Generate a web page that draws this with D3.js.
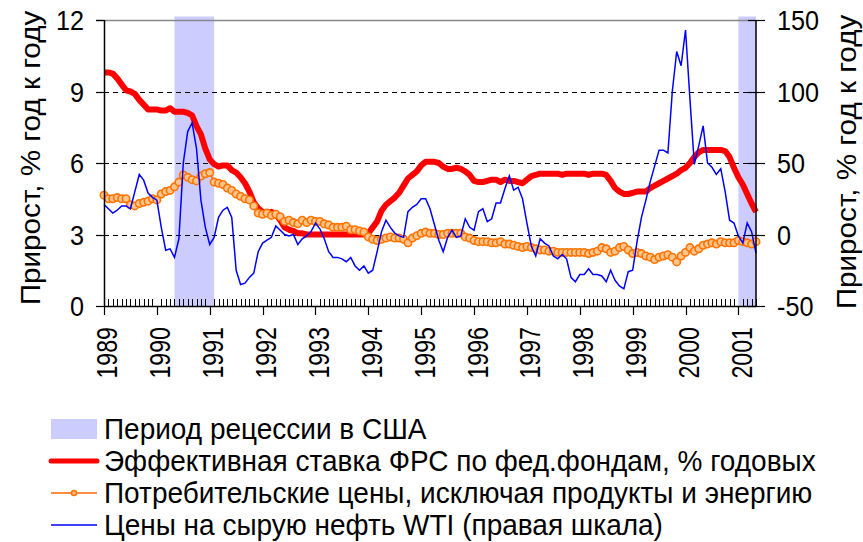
<!DOCTYPE html>
<html>
<head>
<meta charset="utf-8">
<script src="https://cdn.jsdelivr.net/npm/d3@7/dist/d3.min.js"></script>
<style>
  body { margin: 0; background: #fff; }
  text { font-family: "Liberation Sans", Arial, sans-serif; fill: #000; }
</style>
</head>
<body>
<div id="chart"></div>
<script>
// monthly data, Jan 1989 .. May 2001
var fedFunds = [
  9.8, 9.8, 9.75, 9.55, 9.3, 9.05, 9.0, 8.9, 8.65, 8.45, 8.25, 8.25,
  8.25, 8.2, 8.2, 8.3, 8.15, 8.15, 8.15, 8.1, 8.0, 7.55, 7.2, 6.6,
  6.15, 5.95, 5.85, 5.9, 5.9, 5.7, 5.6, 5.4, 5.15, 4.8, 4.35, 4.1,
  3.95, 3.9, 3.95, 3.85, 3.6, 3.3, 3.2, 3.15, 3.05, 3.05, 3.0, 3.0,
  3.0, 3.0, 3.0, 3.0, 3.0, 3.0, 3.0, 3.0, 3.0, 3.0, 3.0, 3.0,
  3.05, 3.3, 3.55, 4.0, 4.25, 4.4, 4.55, 4.75, 5.05, 5.35, 5.5, 5.65,
  5.9, 6.05, 6.05, 6.05, 6.0, 5.85, 5.75, 5.75, 5.8, 5.75, 5.65, 5.5,
  5.25, 5.2, 5.2, 5.25, 5.3, 5.3, 5.2, 5.3, 5.25, 5.25, 5.2, 5.15,
  5.3, 5.45, 5.5, 5.55, 5.55, 5.55, 5.55, 5.55, 5.5, 5.55, 5.55, 5.55,
  5.55, 5.55, 5.5, 5.55, 5.55, 5.55, 5.5, 5.25, 4.95, 4.8, 4.7, 4.7,
  4.75, 4.8, 4.8, 4.8, 4.95, 5.05, 5.15, 5.25, 5.35, 5.45, 5.55, 5.7,
  5.8, 6.0, 6.25, 6.45, 6.55, 6.55, 6.55, 6.55, 6.55, 6.5, 6.25, 5.8,
  5.4, 5.1, 4.7, 4.3, 3.95
];
var coreCpi = [
  4.65, 4.5, 4.5, 4.55, 4.5, 4.5, 4.25, 4.2, 4.3, 4.35, 4.4, 4.5,
  4.45, 4.7, 4.8, 4.85, 5.0, 5.2, 5.5, 5.4, 5.3, 5.25, 5.45, 5.55,
  5.6, 5.2, 5.15, 5.1, 4.95, 4.85, 4.7, 4.6, 4.5, 4.45, 4.2, 3.9,
  3.85, 3.9, 3.8, 3.85, 3.75, 3.55, 3.6, 3.5, 3.45, 3.6, 3.5, 3.6,
  3.55, 3.55, 3.45, 3.4, 3.3, 3.3, 3.3, 3.35, 3.2, 3.2, 3.15, 3.1,
  2.9, 2.8, 2.75, 2.8, 2.85, 2.9, 2.85, 2.85, 2.8, 2.65, 2.85, 2.95,
  3.05, 3.1, 3.05, 3.05, 3.0, 3.0, 3.05, 3.05, 3.05, 3.05, 2.9, 2.85,
  2.75, 2.7, 2.7, 2.7, 2.65, 2.65, 2.7, 2.6, 2.6, 2.55, 2.5, 2.45,
  2.5, 2.45, 2.4, 2.35, 2.35, 2.3, 2.3, 2.25, 2.25, 2.25, 2.25, 2.25,
  2.25, 2.25, 2.2, 2.25, 2.3, 2.45, 2.4, 2.25, 2.3, 2.45, 2.5, 2.35,
  2.2, 2.25, 2.2, 2.1, 2.05, 1.95, 2.05, 2.1, 2.15, 2.05, 1.85, 2.1,
  2.25, 2.45, 2.3, 2.4, 2.55, 2.6, 2.65, 2.6, 2.7, 2.65, 2.65, 2.65,
  2.75, 2.7, 2.65, 2.6, 2.7
];
var oilWti = [
  21, 18, 15, 17, 20, 20, 18, 30, 42, 38, 29, 26,
  24, 5, -11, -10, -16, -3, 50, 72, 78, 60, 24, 5,
  -7, -2, 12, 17, 19, 12, -25, -35, -34, -30, -27, -12,
  -6, -4, -2, 6, 3, 0, -1, 0, -7, -3, -1, 2,
  8, 4, -3, -12, -16, -16, -17, -19, -16, -22, -25, -22,
  -27, -25, -12, 2, 10, 5, 1, -1, -2, 16, 19, 21,
  25, 25, 18, 7, -4, -12, -2, 3, -2, -1, 11, 5,
  3, 16, 18, 9, 11, 22, 22, 32, 41, 31, 33, 25,
  8, -8, -15, -3, -6, -8, -15, -17, -14, -17, -30, -33,
  -28, -28, -24, -28, -28, -29, -33, -25, -32, -36, -38, -26,
  -25, -5, 12, 24, 37, 48, 59, 59, 57, 100, 128, 118,
  143, 95, 49, 62, 76, 50, 47, 42, 46, 30, 10, 8,
  -1, -6, 8, 2, -13
];
// recession periods as month indexes [start, end]
var recessions = [[16, 25], [144, 148]];
var years = d3.range(1989, 2002);
var leftTicks = [0, 3, 6, 9, 12];
var rightTicks = [-50, 0, 50, 100, 150];
var gridTicks = [3, 6, 9];
var axisTitle = "Прирост, % год к году";
var legendLabels = [
  "Период рецессии в США",
  "Эффективная ставка ФРС по фед.фондам, % годовых",
  "Потребительские цены, исключая продукты и энергию",
  "Цены на сырую нефть WTI (правая шкала)"
];

var W = 863, H = 542;
var plotL = 104, plotR = 756, plotT = 20, plotB = 306;

var svg = d3.select("#chart").append("svg")
    .attr("width", W).attr("height", H);

var x = d3.scaleLinear().domain([0, fedFunds.length - 1]).range([plotL, plotR]);
var yL = d3.scaleLinear().domain([0, 12]).range([plotB, plotT]);
var yR = d3.scaleLinear().domain([-50, 150]).range([plotB, plotT]);

// stretch / squeeze text along its direction
function squeeze(sel, k) {
    sel.each(function () {
        var L = this.getComputedTextLength();
        d3.select(this).attr("textLength", L * k).attr("lengthAdjust", "spacingAndGlyphs");
    });
}

// recession bars
svg.append("g")
    .selectAll("rect")
    .data(recessions)
    .enter()
    .append("rect")
        .attr("x", d => x(d[0]))
        .attr("y", plotT - 3.5)
        .attr("width", d => x(d[1]) - x(d[0]))
        .attr("height", plotB - plotT + 3.5)
        .style("fill", "#ccccff");

// grid
svg.append("g")
    .selectAll("line")
    .data(gridTicks)
    .enter()
    .append("line")
        .attr("x1", plotL).attr("x2", plotR)
        .attr("y1", d => Math.round(yL(d)) + 0.5)
        .attr("y2", d => Math.round(yL(d)) + 0.5)
        .attr("stroke", "#000")
        .attr("stroke-dasharray", "5,4");

// top border
svg.append("line")
    .attr("x1", plotL - 8).attr("x2", plotR)
    .attr("y1", plotT + 0.5).attr("y2", plotT + 0.5)
    .attr("stroke", "#888").attr("stroke-width", 1.5);

// series
var lineL = d3.line().x((d, i) => x(i)).y(d => yL(d));
var lineR = d3.line().x((d, i) => x(i)).y(d => yR(d));

svg.append("path")
    .datum(fedFunds)
    .attr("d", lineL)
    .attr("fill", "none")
    .attr("stroke", "#ff0000")
    .attr("stroke-width", 6)
    .attr("stroke-linejoin", "round");

svg.append("path")
    .datum(coreCpi)
    .attr("d", lineL)
    .attr("fill", "none")
    .attr("stroke", "#ff6600")
    .attr("stroke-width", 1.5);

svg.append("g")
    .selectAll("circle")
    .data(coreCpi)
    .enter()
    .append("circle")
        .attr("cx", (d, i) => x(i))
        .attr("cy", d => yL(d))
        .attr("r", 3.7)
        .attr("fill", "#ffc58c")
        .attr("stroke", "#ff7300")
        .attr("stroke-width", 1.6);

svg.append("path")
    .datum(oilWti)
    .attr("d", lineR)
    .attr("fill", "none")
    .attr("stroke", "#0000ff")
    .attr("stroke-width", 1.5);

// axis lines
svg.append("line")
    .attr("x1", plotL + 0.5).attr("x2", plotL + 0.5)
    .attr("y1", plotT).attr("y2", plotB)
    .attr("stroke", "#000").attr("stroke-width", 1.5);
svg.append("line")
    .attr("x1", plotR).attr("x2", plotR)
    .attr("y1", plotT).attr("y2", plotB)
    .attr("stroke", "#000").attr("stroke-width", 1.5);
svg.append("line")
    .attr("x1", plotL).attr("x2", plotR)
    .attr("y1", plotB + 0.5).attr("y2", plotB + 0.5)
    .attr("stroke", "#000").attr("stroke-width", 1.5);

// left ticks + labels
var gl = svg.append("g");
gl.selectAll("line")
    .data(leftTicks)
    .enter()
    .append("line")
        .attr("x1", plotL - 8).attr("x2", plotL)
        .attr("y1", d => Math.round(yL(d)) + 0.5)
        .attr("y2", d => Math.round(yL(d)) + 0.5)
        .attr("stroke", "#000").attr("stroke-width", 1.2);
gl.selectAll("text")
    .data(leftTicks)
    .enter()
    .append("text")
        .attr("x", 84)
        .attr("y", d => yL(d))
        .attr("dy", "0.36em")
        .attr("text-anchor", "end")
        .style("font-size", "28px")
        .text(d => d)
        .call(squeeze, 0.9);

// right ticks + labels
var gr = svg.append("g");
gr.selectAll("line")
    .data(rightTicks)
    .enter()
    .append("line")
        .attr("x1", plotR - 8).attr("x2", plotR + 9)
        .attr("y1", d => Math.round(yR(d)) + 0.5)
        .attr("y2", d => Math.round(yR(d)) + 0.5)
        .attr("stroke", "#000").attr("stroke-width", 1.2);
gr.selectAll("text")
    .data(rightTicks)
    .enter()
    .append("text")
        .attr("x", 777)
        .attr("y", d => yR(d))
        .attr("dy", "0.36em")
        .attr("text-anchor", "start")
        .style("font-size", "28px")
        .text(d => d)
        .call(squeeze, 0.9);

// x ticks: minor per month above the axis, major per year below
var months = d3.range(0, fedFunds.length);
svg.append("g")
    .selectAll("line")
    .data(months.filter(m => m % 12 !== 0))
    .enter()
    .append("line")
        .attr("x1", d => Math.round(x(d)) + 0.5)
        .attr("x2", d => Math.round(x(d)) + 0.5)
        .attr("y1", plotB - 7).attr("y2", plotB)
        .attr("stroke", "#000").attr("stroke-width", 1);

var gx = svg.append("g");
gx.selectAll("line")
    .data(years)
    .enter()
    .append("line")
        .attr("x1", d => Math.round(x((d - 1989) * 12)) + 0.5)
        .attr("x2", d => Math.round(x((d - 1989) * 12)) + 0.5)
        .attr("y1", plotB).attr("y2", plotB + 9)
        .attr("stroke", "#000").attr("stroke-width", 1.2);
gx.selectAll("text")
    .data(years)
    .enter()
    .append("text")
        .attr("transform", d => "translate(" + (x((d - 1989) * 12) + 3) + "," + 327 + ") rotate(-90)")
        .attr("dy", "0.36em")
        .attr("text-anchor", "end")
        .style("font-size", "29px")
        .text(d => d)
        .call(squeeze, 0.8);

// axis titles
svg.append("text")
    .attr("transform", "translate(30,158) rotate(-90)")
    .attr("dy", "0.36em")
    .attr("text-anchor", "middle")
    .style("font-size", "28px")
    .text(axisTitle)
    .call(squeeze, 1.06);
svg.append("text")
    .attr("transform", "translate(846,162) rotate(-90)")
    .attr("dy", "0.36em")
    .attr("text-anchor", "middle")
    .style("font-size", "28px")
    .text(axisTitle)
    .call(squeeze, 1.06);

// legend
var rowY = [429, 461, 493, 525];
var lg = svg.append("g");
lg.append("rect")
    .attr("x", 51).attr("y", rowY[0] - 10)
    .attr("width", 46).attr("height", 20)
    .style("fill", "#ccccff");
lg.append("line")
    .attr("x1", 51).attr("x2", 97)
    .attr("y1", rowY[1]).attr("y2", rowY[1])
    .attr("stroke", "#ff0000").attr("stroke-width", 5)
    .attr("stroke-linecap", "round");
lg.append("line")
    .attr("x1", 51).attr("x2", 97)
    .attr("y1", rowY[2]).attr("y2", rowY[2])
    .attr("stroke", "#ff6600").attr("stroke-width", 1.5);
lg.append("circle")
    .attr("cx", 74).attr("cy", rowY[2]).attr("r", 2.5)
    .attr("fill", "#ffc58c").attr("stroke", "#ff7300").attr("stroke-width", 1.5);
lg.append("line")
    .attr("x1", 51).attr("x2", 97)
    .attr("y1", rowY[3]).attr("y2", rowY[3])
    .attr("stroke", "#0000ff").attr("stroke-width", 1.5);
lg.selectAll("text")
    .data(legendLabels)
    .enter()
    .append("text")
        .attr("x", 104)
        .attr("y", (d, i) => rowY[i])
        .attr("dy", "0.36em")
        .style("font-size", "29px")
        .text(d => d)
        .call(squeeze, 0.965);
</script>
</body>
</html>
